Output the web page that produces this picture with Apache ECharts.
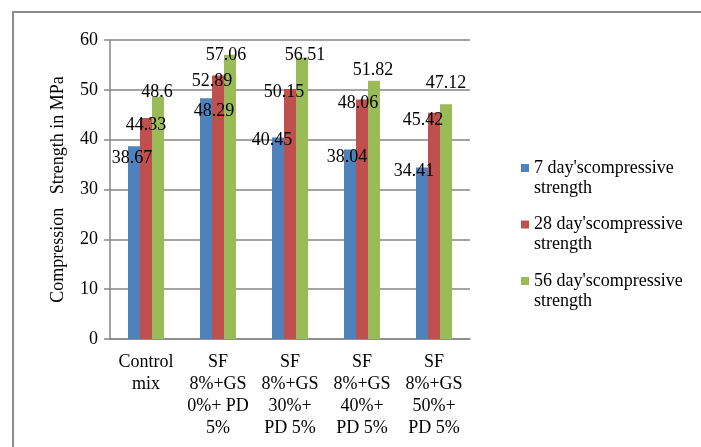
<!DOCTYPE html>
<html>
<head>
<meta charset="utf-8">
<script src="https://cdn.jsdelivr.net/npm/echarts@6/dist/echarts.min.js"></script>
<style>
  html, body { margin: 0; padding: 0; background: #fff; }
  #chart { width: 701px; height: 447px; }
</style>
</head>
<body>
<div id="chart"></div>
<script>
// 数据
const categories = [
  'Control\nmix',
  'SF\n8%+GS\n0%+ PD\n5%',
  'SF\n8%+GS\n30%+\nPD 5%',
  'SF\n8%+GS\n40%+\nPD 5%',
  'SF\n8%+GS\n50%+\nPD 5%'
]
const seriesNames = [
  "7 day'scompressive\nstrength",
  "28 day'scompressive\nstrength",
  "56 day'scompressive\nstrength"
]
const day7 = [38.67, 48.29, 40.45, 38.04, 34.41]
const day28 = [44.33, 52.89, 50.15, 48.06, 45.42]
const day56 = [48.6, 57.06, 56.51, 51.82, 47.12]

const FONT = "'Liberation Serif', 'Times New Roman', serif"
const colors = ['#4F81BD', '#C0504D', '#9BBB59']
// 标签微调 (原图中标签被手动拖动过)
const labelNudge = [
  [[-2, 21], [8, 22], [-6, 12], [-3, 17], [-8, 13]],
  [[0, 16], [-6, 15], [-6, 12], [-4, 13], [-11, 17]],
  [[-1, 4], [-4, 10], [3, 7], [-1, -1], [0, -12]]
]

const makeSeries = (name, data, i) => ({
  name: name,
  type: 'bar',
  data: data.map((v, j) => ({ value: v, label: { offset: labelNudge[i][j] } })),
  barGap: '0%',
  barCategoryGap: '50%',
  itemStyle: { color: colors[i] },
  label: {
    show: true,
    position: 'top',
    distance: 0,
    fontFamily: FONT,
    fontSize: 18,
    color: '#000'
  }
})

const chart = echarts.init(document.getElementById('chart'))
chart.setOption({
  animation: false,
  textStyle: { fontFamily: FONT, color: '#000' },
  graphic: [{
    type: 'rect',
    shape: { x: 13, y: 12, width: 720, height: 470 },
    style: { fill: 'none', stroke: '#8c8c8c', lineWidth: 2 },
    silent: true
  }],
  grid: {
    left: 110,
    top: 40,
    right: 231,
    bottom: 108
  },
  legend: {
    orient: 'vertical',
    left: 516,
    top: 133,
    itemWidth: 8,
    itemHeight: 8,
    itemGap: -2.5,
    icon: 'rect',
    data: seriesNames,
    formatter: (name) => '{e|}\n{t|' + name.replace('\n', '}\n{t|') + '}',
    textStyle: {
      fontFamily: FONT,
      fontSize: 18,
      color: '#000',
      rich: {
        e: { height: 20, lineHeight: 20, fontSize: 18, fontFamily: FONT },
        t: { lineHeight: 20, fontSize: 18, fontFamily: FONT, color: '#000' }
      }
    }
  },
  xAxis: {
    type: 'category',
    data: categories,
    axisTick: { show: false },
    axisLine: { show: true, lineStyle: { color: '#868686', width: 1.5 } },
    axisLabel: {
      interval: 0,
      margin: 12,
      fontFamily: FONT,
      fontSize: 18,
      lineHeight: 22,
      color: '#000'
    }
  },
  yAxis: {
    type: 'value',
    min: 0,
    max: 60,
    interval: 10,
    name: 'Compression   Strength in MPa',
    nameLocation: 'middle',
    nameGap: 43,
    nameTextStyle: { fontFamily: FONT, fontSize: 18, color: '#000' },
    axisLine: { show: true, lineStyle: { color: '#868686', width: 1.5 } },
    axisTick: { show: true, length: 6, lineStyle: { color: '#868686', width: 1.5 } },
    splitLine: { lineStyle: { color: '#868686', width: 1.5 } },
    axisLabel: {
      margin: 12,
      fontFamily: FONT,
      fontSize: 18,
      color: '#000'
    }
  },
  series: [
    makeSeries(seriesNames[0], day7, 0),
    makeSeries(seriesNames[1], day28, 1),
    makeSeries(seriesNames[2], day56, 2)
  ]
})
</script>
</body>
</html>
